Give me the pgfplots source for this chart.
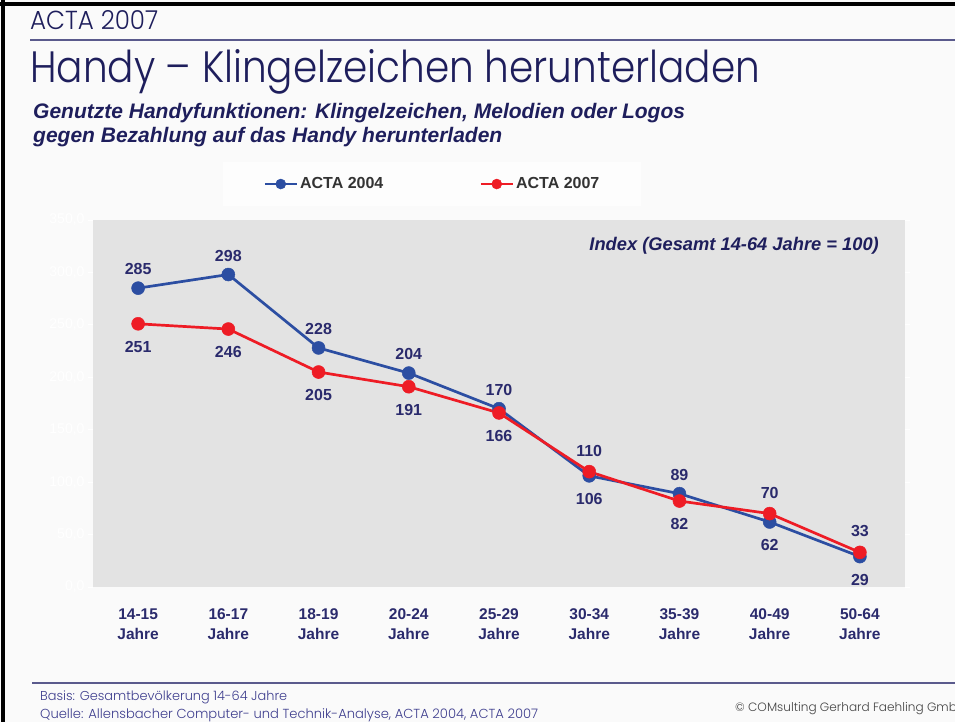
\documentclass[border=0pt]{standalone}
\usepackage{pgfplots}
\pgfplotsset{compat=1.18}
\usepackage{fontspec}
\setmainfont{Liberation Sans}
\IfFontExistsTF{Poppins Light}{\newfontfamily\gothic{Poppins Light}}{\newfontfamily\gothic{Poppins}}
\definecolor{navy}{HTML}{1E1E5C}
\definecolor{labnavy}{HTML}{2A2A6C}
\definecolor{hdrline}{HTML}{5A5A8C}
\definecolor{bgc}{HTML}{FAFAFA}
\definecolor{legbg}{HTML}{FDFDFD}
\definecolor{plotgray}{HTML}{E3E3E3}
\definecolor{blueA}{HTML}{2C4EA2}
\definecolor{redA}{HTML}{EE1C25}
\definecolor{legtext}{HTML}{333333}
\definecolor{foot}{HTML}{3E3E8E}
\definecolor{copyc}{HTML}{444444}

\pgfplotstableread{
x y off lab
0 285 19 285
1 298 19 298
2 228 19 228
3 204 19 204
4 170 19 170
5 106 -23 106
6 89 19 89
7 62 -23 62
8 29 -23 29
}\tblA
\pgfplotstableread{
x y off lab
0 251 -23 251
1 246 -23 246
2 205 -23 205
3 191 -23 191
4 166 -23 166
5 110 21 110
6 82 -23 82
7 70 21 70
8 33 21 33
}\tblB

\begin{document}
\begin{tikzpicture}[x=1pt,y=1pt]
\useasboundingbox (0,0) rectangle (955,722);
\clip (0,0) rectangle (955,722);
\fill[bgc] (0,0) rectangle (955,722);
\draw[black, line width=4pt] (0,718) -- (955,718);
\draw[black, line width=4pt] (3,0) -- (3,722);
% header
\node[anchor=base west, inner sep=0, text=navy] at (30,692) {\resizebox{128pt}{19pt}{\gothic ACTA 2007}};
\draw[hdrline, line width=2pt] (30,682) -- (955,682);
\node[anchor=base west, inner sep=0, text=navy] at (30,639) {\resizebox{730pt}{33pt}{\gothic Handy – Klingelzeichen herunterladen}};
\node[anchor=base west, inner sep=0, text=navy, align=left, font=\bfseries\itshape\fontsize{21}{24}\selectfont] at (33,579) {Genutzte Handyfunktionen: Klingelzeichen, Melodien oder Logos\\gegen Bezahlung auf das Handy herunterladen};
% footer
\draw[hdrline, line width=1.5pt] (32,39) -- (955,39);
\node[anchor=base west, inner sep=0, text=foot] at (40,21) {\resizebox{247pt}{!}{\gothic Basis: Gesamtbevölkerung 14-64 Jahre}};
\node[anchor=base west, inner sep=0, text=foot] at (40,3) {\resizebox{498pt}{!}{\gothic Quelle: Allensbacher Computer- und Technik-Analyse, ACTA 2004, ACTA 2007}};
\node[anchor=base west, inner sep=0, text=copyc] at (735,10) {\resizebox{230pt}{!}{\gothic © COMsulting Gerhard Faehling GmbH}};

\begin{axis}[
  at={(93pt,135pt)}, anchor=south west, scale only axis,
  width=812pt, height=367pt,
  xmin=-0.5, xmax=8.5, ymin=0, ymax=350,
  clip=false,
  axis background/.style={fill=plotgray},
  axis line style={draw=none},
  xtick={0,...,8},
  xticklabels={{14-15\\Jahre},{16-17\\Jahre},{18-19\\Jahre},{20-24\\Jahre},{25-29\\Jahre},{30-34\\Jahre},{35-39\\Jahre},{40-49\\Jahre},{50-64\\Jahre}},
  xticklabel style={align=center, text=labnavy, font=\bfseries\fontsize{15.5}{20}\selectfont, yshift=-13pt},
  xtick style={draw=none},
  ytick={0,50,...,350},
  yticklabels={{0,0},{50,0},{100,0},{150,0},{200,0},{250,0},{300,0},{350,0}},
  yticklabel style={text=white, font=\fontsize{14}{16}\selectfont},
  ytick style={white, line width=0.8pt},
  tick align=outside, major tick length=5pt,
  legend style={at={(0.418,1.098)}, anchor=center, draw=none, fill=legbg,
    legend columns=2, font=\bfseries\fontsize{16}{18}\selectfont, text=legtext,
    inner xsep=40pt, inner ysep=14pt,
    /tikz/every even column/.append style={column sep=94pt}},
  legend image code/.code={\draw[mark repeat=2,mark phase=2,#1,mark size=5pt] plot coordinates {(0pt,0pt) (16pt,0pt) (32pt,0pt)};},
  every node near coord/.append style={anchor=center, font=\bfseries\fontsize{16}{18}\selectfont, text=labnavy},
]
\addplot[blueA, line width=2.7pt, mark=*, mark size=6.5pt, mark options={fill=blueA, draw=blueA, line width=0.5pt},
  nodes near coords, point meta=explicit symbolic,
  visualization depends on={\thisrow{off}\as\myoff},
  nodes near coords style={yshift=\myoff}]
  table[x=x, y=y, meta=lab]{\tblA};
\addlegendentry{ACTA 2004}
\addplot[redA, line width=2.7pt, mark=*, mark size=6.5pt, mark options={fill=redA, draw=redA, line width=0.5pt},
  nodes near coords, point meta=explicit symbolic,
  visualization depends on={\thisrow{off}\as\myoff},
  nodes near coords style={yshift=\myoff}]
  table[x=x, y=y, meta=lab]{\tblB};
\addlegendentry{ACTA 2007}
\node[anchor=east, inner sep=0, text=navy, font=\bfseries\itshape\fontsize{18.3}{20}\selectfont] at (rel axis cs:0.968,0.929) {Index (Gesamt 14-64 Jahre = 100)};
\end{axis}
\end{tikzpicture}
\end{document}
